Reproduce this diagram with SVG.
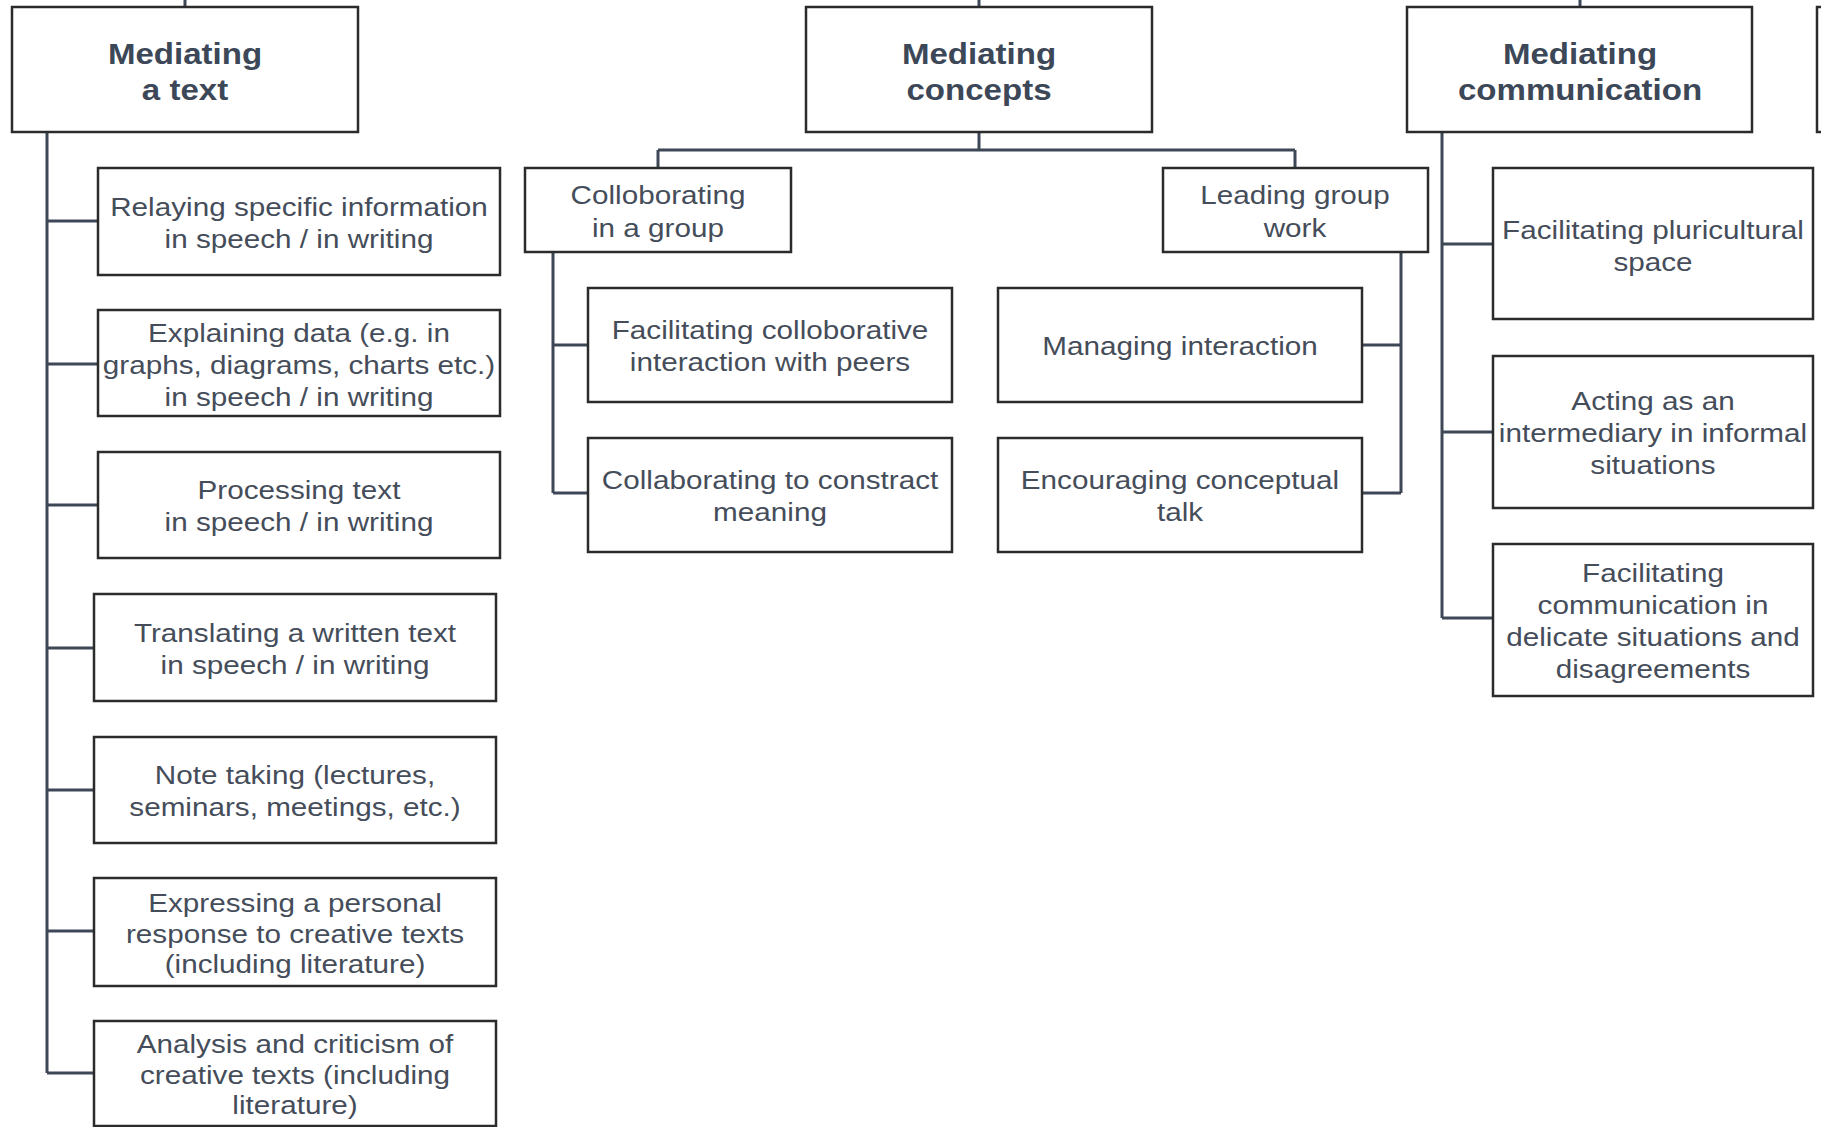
<svg xmlns="http://www.w3.org/2000/svg" width="1821" height="1127" viewBox="0 0 1821 1127">
<style>
  .box{fill:#ffffff;stroke:#2b2b2b;stroke-width:2.5}
  .con{fill:none;stroke:#3e4756;stroke-width:3}
  .t{font-family:"Liberation Sans",Arial,sans-serif;font-size:26.5px;fill:#454d5a;text-anchor:middle}
  .h{font-family:"Liberation Sans",Arial,sans-serif;font-size:29.5px;font-weight:bold;fill:#3c4757;text-anchor:middle}
</style>
<rect width="1821" height="1127" fill="#ffffff"/>

<g id="connectors">
  <path class="con" d="M185 0V7M979 0V7M1580 0V7"/>
  <path class="con" d="M47 132V1073M47 221H98M47 364H98M47 505H98M47 648H94M47 790H94M47 931H94M47 1073H94"/>
  <path class="con" d="M979 132V150M658 150H1295M658 150V168M1295 150V168"/>
  <path class="con" d="M553 252V493M553 345H588M553 493H588"/>
  <path class="con" d="M1401 252V493M1401 345H1362M1401 493H1362"/>
  <path class="con" d="M1442 132V618M1442 244H1493M1442 432H1493M1442 618H1493"/>
</g>

<g id="mediating-text">
  <rect class="box" x="12" y="7" width="346" height="125"/>
  <g transform="translate(185 0) scale(1.12 1)"><text class="h"><tspan x="0" y="64">Mediating</tspan><tspan x="0" y="100">a text</tspan></text></g>
</g>
<g id="relaying">
  <rect class="box" x="98" y="168" width="402" height="107"/>
  <g transform="translate(299 0) scale(1.12 1)"><text class="t"><tspan x="0" y="216">Relaying specific information</tspan><tspan x="0" y="248">in speech / in writing</tspan></text></g>
</g>
<g id="explaining">
  <rect class="box" x="98" y="310" width="402" height="106"/>
  <g transform="translate(299 0) scale(1.12 1)"><text class="t"><tspan x="0" y="342">Explaining data (e.g. in</tspan><tspan x="0" y="374">graphs, diagrams, charts etc.)</tspan><tspan x="0" y="406">in speech / in writing</tspan></text></g>
</g>
<g id="processing">
  <rect class="box" x="98" y="452" width="402" height="106"/>
  <g transform="translate(299 0) scale(1.12 1)"><text class="t"><tspan x="0" y="499">Processing text</tspan><tspan x="0" y="531">in speech / in writing</tspan></text></g>
</g>
<g id="translating">
  <rect class="box" x="94" y="594" width="402" height="107"/>
  <g transform="translate(295 0) scale(1.12 1)"><text class="t"><tspan x="0" y="642">Translating a written text</tspan><tspan x="0" y="674">in speech / in writing</tspan></text></g>
</g>
<g id="note-taking">
  <rect class="box" x="94" y="737" width="402" height="106"/>
  <g transform="translate(295 0) scale(1.12 1)"><text class="t"><tspan x="0" y="784">Note taking (lectures,</tspan><tspan x="0" y="816">seminars, meetings, etc.)</tspan></text></g>
</g>
<g id="expressing">
  <rect class="box" x="94" y="878" width="402" height="108"/>
  <g transform="translate(295 0) scale(1.12 1)"><text class="t"><tspan x="0" y="912">Expressing a personal</tspan><tspan x="0" y="943">response to creative texts</tspan><tspan x="0" y="973">(including literature)</tspan></text></g>
</g>
<g id="analysis">
  <rect class="box" x="94" y="1021" width="402" height="105"/>
  <g transform="translate(295 0) scale(1.12 1)"><text class="t"><tspan x="0" y="1053">Analysis and criticism of</tspan><tspan x="0" y="1084">creative texts (including</tspan><tspan x="0" y="1114">literature)</tspan></text></g>
</g>

<g id="mediating-concepts">
  <rect class="box" x="806" y="7" width="346" height="125"/>
  <g transform="translate(979 0) scale(1.12 1)"><text class="h"><tspan x="0" y="64">Mediating</tspan><tspan x="0" y="100">concepts</tspan></text></g>
</g>
<g id="collaborating-group">
  <rect class="box" x="525" y="168" width="266" height="84"/>
  <g transform="translate(658 0) scale(1.12 1)"><text class="t"><tspan x="0" y="204">Colloborating</tspan><tspan x="0" y="237">in a group</tspan></text></g>
</g>
<g id="leading-group">
  <rect class="box" x="1163" y="168" width="265" height="84"/>
  <g transform="translate(1295 0) scale(1.12 1)"><text class="t"><tspan x="0" y="204">Leading group</tspan><tspan x="0" y="237">work</tspan></text></g>
</g>
<g id="facilitating-collaborative">
  <rect class="box" x="588" y="288" width="364" height="114"/>
  <g transform="translate(770 0) scale(1.12 1)"><text class="t"><tspan x="0" y="339">Facilitating colloborative</tspan><tspan x="0" y="371">interaction with peers</tspan></text></g>
</g>
<g id="collaborating-meaning">
  <rect class="box" x="588" y="438" width="364" height="114"/>
  <g transform="translate(770 0) scale(1.12 1)"><text class="t"><tspan x="0" y="489">Collaborating to constract</tspan><tspan x="0" y="521">meaning</tspan></text></g>
</g>
<g id="managing">
  <rect class="box" x="998" y="288" width="364" height="114"/>
  <g transform="translate(1180 0) scale(1.12 1)"><text class="t"><tspan x="0" y="355">Managing interaction</tspan></text></g>
</g>
<g id="encouraging">
  <rect class="box" x="998" y="438" width="364" height="114"/>
  <g transform="translate(1180 0) scale(1.12 1)"><text class="t"><tspan x="0" y="489">Encouraging conceptual</tspan><tspan x="0" y="521">talk</tspan></text></g>
</g>

<g id="mediating-communication">
  <rect class="box" x="1407" y="7" width="345" height="125"/>
  <g transform="translate(1580 0) scale(1.12 1)"><text class="h"><tspan x="0" y="64">Mediating</tspan><tspan x="0" y="100">communication</tspan></text></g>
</g>
<g id="pluricultural">
  <rect class="box" x="1493" y="168" width="320" height="151"/>
  <g transform="translate(1653 0) scale(1.12 1)"><text class="t"><tspan x="0" y="239">Facilitating pluricultural</tspan><tspan x="0" y="271">space</tspan></text></g>
</g>
<g id="intermediary">
  <rect class="box" x="1493" y="356" width="320" height="152"/>
  <g transform="translate(1653 0) scale(1.12 1)"><text class="t"><tspan x="0" y="410">Acting as an</tspan><tspan x="0" y="442">intermediary in informal</tspan><tspan x="0" y="474">situations</tspan></text></g>
</g>
<g id="delicate">
  <rect class="box" x="1493" y="544" width="320" height="152"/>
  <g transform="translate(1653 0) scale(1.12 1)"><text class="t"><tspan x="0" y="582">Facilitating</tspan><tspan x="0" y="614">communication in</tspan><tspan x="0" y="646">delicate situations and</tspan><tspan x="0" y="678">disagreements</tspan></text></g>
</g>
<g id="cut-off-node">
  <rect class="box" x="1817" y="7" width="30" height="125"/>
</g>
</svg>
